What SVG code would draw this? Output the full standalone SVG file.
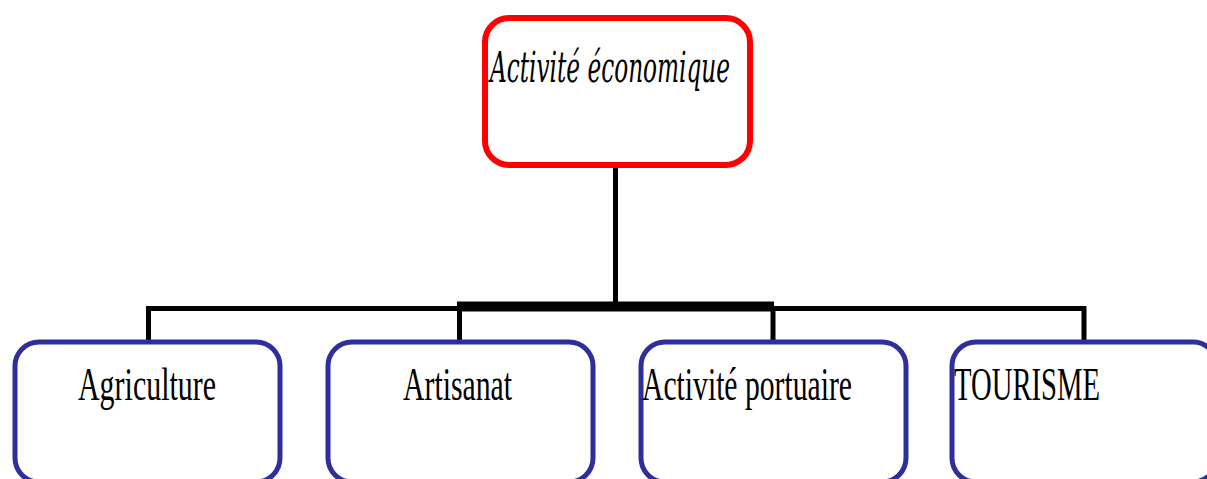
<svg xmlns="http://www.w3.org/2000/svg" width="1207" height="479" viewBox="0 0 1207 479">
<style>
.top{fill:#ffffff;stroke:#ff0000;stroke-width:6}
.box{fill:#ffffff;stroke:#2f2f9c;stroke-width:5}
.t1{font-family:"DejaVu Serif","Liberation Serif",serif;font-style:italic;font-size:43px;fill:#000}
.t2{font-family:"Liberation Serif","Times New Roman",serif;font-size:47px;fill:#000}
.ln{stroke:#000;fill:none}
</style>
<rect width="1207" height="479" fill="#ffffff"/>
<g id="connectors">
<line class="ln" x1="615.5" y1="168" x2="615.5" y2="304" stroke-width="5"/>
<polyline class="ln" points="148.5,342 148.5,308.5 1084,308.5 1084,342" stroke-width="5"/>
<line class="ln" x1="457" y1="306.5" x2="774" y2="306.5" stroke-width="10"/>
<line class="ln" x1="459.5" y1="306" x2="459.5" y2="342" stroke-width="5"/>
<line class="ln" x1="773" y1="306" x2="773" y2="342" stroke-width="5"/>
</g>
<g id="node-activite">
<rect class="top" x="485" y="18" width="265" height="147" rx="24"/>
<text class="t1" x="490" y="82" textLength="240" lengthAdjust="spacingAndGlyphs">Activité économique</text>
</g>
<g id="node-agriculture">
<rect class="box" x="15" y="342" width="265" height="140" rx="24"/>
<text class="t2" x="78" y="400" textLength="138" lengthAdjust="spacingAndGlyphs">Agriculture</text>
</g>
<g id="node-artisanat">
<rect class="box" x="328" y="342" width="265" height="140" rx="24"/>
<text class="t2" x="403" y="400" textLength="109" lengthAdjust="spacingAndGlyphs">Artisanat</text>
</g>
<g id="node-portuaire">
<rect class="box" x="641" y="342" width="265" height="140" rx="24"/>
<text class="t2" x="642" y="400" textLength="210" lengthAdjust="spacingAndGlyphs">Activité portuaire</text>
</g>
<g id="node-tourisme">
<rect class="box" x="952" y="342" width="265" height="140" rx="24"/>
<text class="t2" x="954" y="400" textLength="146" lengthAdjust="spacingAndGlyphs">TOURISME</text>
</g>
</svg>
